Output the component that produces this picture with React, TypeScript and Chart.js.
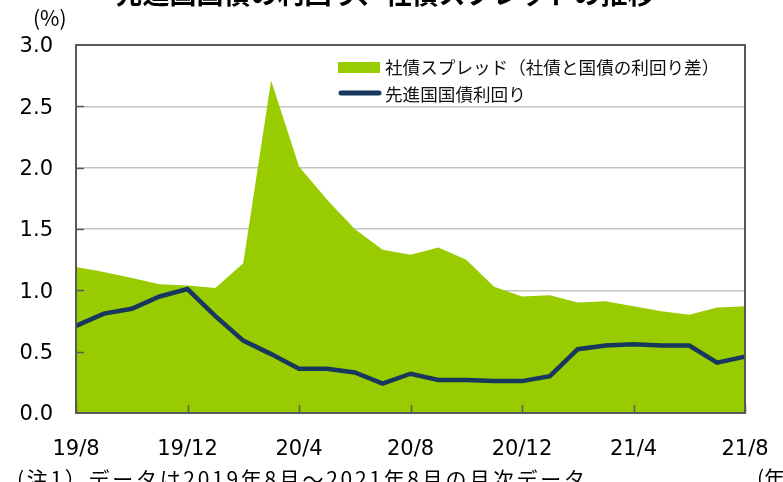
import React, { useEffect, useRef } from 'react';
import { Chart, registerables } from 'chart.js';
Chart.register(...registerables);

const months = [
  '19/8', '19/9', '19/10', '19/11', '19/12',
  '20/1', '20/2', '20/3', '20/4', '20/5', '20/6', '20/7', '20/8', '20/9', '20/10', '20/11', '20/12',
  '21/1', '21/2', '21/3', '21/4', '21/5', '21/6', '21/7', '21/8',
];
const spread = [
  1.19, 1.15, 1.10, 1.05, 1.04,
  1.02, 1.22, 2.71, 2.01, 1.74, 1.50, 1.33, 1.29, 1.35, 1.25, 1.03, 0.95,
  0.96, 0.90, 0.91, 0.87, 0.83, 0.80, 0.86, 0.87,
];
const yields = [
  0.71, 0.81, 0.85, 0.95, 1.01,
  0.79, 0.59, 0.48, 0.36, 0.36, 0.33, 0.24, 0.32, 0.27, 0.27, 0.26, 0.26,
  0.30, 0.52, 0.55, 0.56, 0.55, 0.55, 0.41, 0.46,
];
const shownTickLabels = ['19/8', '19/12', '20/4', '20/8', '20/12', '21/4', '21/8'];
const seriesNames = ['社債スプレッド（社債と国債の利回り差）', '先進国国債利回り'];
const titleText = '先進国国債の利回り、社債スプレッドの推移';
const unitText = '(%)';
const footText = '(注1）データは2019年8月～2021年8月の月次データ';
const yearText = '(年)';

const GREEN = '#99CC00';
const NAVY = '#17375E';
const AXIS = '#595959';
const CJK = '"Noto Sans CJK JP", "Noto Sans", sans-serif';
const NUM = '"DejaVu Sans", sans-serif';

const decor = {
  id: 'decor',
  afterDatasetsDraw(chart: any) {
    const { ctx, chartArea: a, scales } = chart;
    const x = scales.x;
    const y = scales.y;
    ctx.save();
    ctx.strokeStyle = AXIS;
    ctx.lineWidth = 1.5;
    for (let v = 0.5; v < 3; v += 0.5) {
      const py = Math.round(y.getPixelForValue(v)) + 0.5;
      ctx.beginPath();
      ctx.moveTo(a.left, py);
      ctx.lineTo(a.left + 8, py);
      ctx.stroke();
    }
    months.forEach((m, i) => {
      if (shownTickLabels.includes(m)) {
        const px = Math.round(x.getPixelForValue(i)) + 0.5;
        ctx.beginPath();
        ctx.moveTo(px, a.bottom);
        ctx.lineTo(px, a.bottom - 8);
        ctx.stroke();
      }
    });
    ctx.lineWidth = 2;
    ctx.strokeRect(a.left, a.top, a.right - a.left, a.bottom - a.top);
    ctx.restore();
  },
  afterDraw(chart: any) {
    const { ctx } = chart;
    ctx.save();
    ctx.fillStyle = '#000';
    ctx.textBaseline = 'alphabetic';
    ctx.font = `bold 27px ${CJK}`;
    ctx.textAlign = 'center';
    ctx.fillText(titleText, 385, 4);
    ctx.textAlign = 'left';
    ctx.font = `21px ${CJK}`;
    ctx.fillText(unitText, 33, 26);
    ctx.font = `21px ${CJK}`;
    try { (ctx as any).letterSpacing = '2.7px'; } catch (e) { /* ignore */ }
    ctx.fillText(footText, 17, 487);
    try { (ctx as any).letterSpacing = '0px'; } catch (e) { /* ignore */ }
    ctx.fillText(yearText, 757, 486);
    ctx.fillStyle = GREEN;
    ctx.fillRect(338, 62, 42, 11);
    ctx.strokeStyle = NAVY;
    ctx.lineWidth = 5;
    ctx.lineCap = 'round';
    ctx.beginPath();
    ctx.moveTo(341, 93);
    ctx.lineTo(379, 93);
    ctx.stroke();
    ctx.fillStyle = '#111';
    ctx.font = `17.6px ${CJK}`;
    ctx.textBaseline = 'middle';
    ctx.fillText(seriesNames[0], 385, 67);
    ctx.fillText(seriesNames[1], 385, 94);
    ctx.restore();
  },
};

export default function App() {
  const ref = useRef<HTMLCanvasElement>(null);
  useEffect(() => {
    document.body.style.margin = '0';
    const chart = new Chart(ref.current as HTMLCanvasElement, {
      type: 'line',
      data: {
        labels: months,
        datasets: [
          {
            label: seriesNames[1],
            data: yields,
            borderColor: NAVY,
            borderWidth: 4.5,
            pointRadius: 0,
            fill: false,
            tension: 0,
            order: 0,
          },
          {
            label: seriesNames[0],
            data: spread,
            borderWidth: 0,
            borderColor: 'rgba(0,0,0,0)',
            backgroundColor: GREEN,
            pointRadius: 0,
            fill: 'origin',
            tension: 0,
            order: 1,
          },
        ],
      },
      options: {
        animation: false,
        responsive: false,
        layout: { padding: { left: 0, right: 38, top: 45, bottom: 0 } },
        plugins: { legend: { display: false }, tooltip: { enabled: false }, title: { display: false } },
        scales: {
          x: {
            offset: false,
            grid: {
              display: true,
              drawOnChartArea: false,
              drawTicks: true,
              tickLength: 24,
              color: 'rgba(0,0,0,0)',
              tickColor: 'rgba(0,0,0,0)',
            },
            border: { display: false },
            ticks: {
              autoSkip: false,
              maxRotation: 0,
              padding: 0,
              color: '#000',
              font: { family: NUM, size: 21 },
              callback: (_v: any, i: number) => (shownTickLabels.includes(months[i]) ? months[i] : ''),
            },
            afterFit: (s: any) => { s.height = 69; },
          },
          y: {
            min: 0,
            max: 3,
            grid: { color: '#C4C4C4', lineWidth: 1.5, drawTicks: false },
            border: { display: false },
            ticks: {
              stepSize: 0.5,
              padding: 23,
              labelOffset: 2,
              color: '#000',
              font: { family: NUM, size: 21 },
              callback: (v: any) => Number(v).toFixed(1),
            },
            afterFit: (s: any) => { s.width = 76; },
          },
        },
      },
      plugins: [decor],
    });
    return () => chart.destroy();
  }, []);
  return (
    <div style={{ width: 783, height: 482, position: 'relative', overflow: 'hidden', background: '#fff' }}>
      <canvas ref={ref} width={783} height={482} />
    </div>
  );
}
